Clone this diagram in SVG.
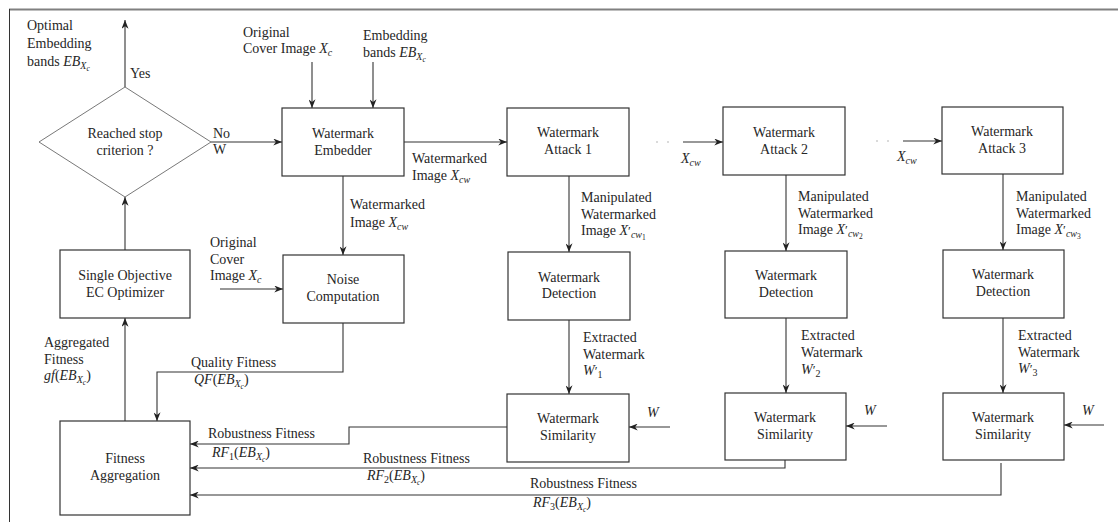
<svg xmlns="http://www.w3.org/2000/svg" width="1118" height="522" viewBox="0 0 1118 522">
  <style>
    text { font-family: "Liberation Serif", "DejaVu Serif", serif; font-size: 14px; fill: #262626; }
    .c { text-anchor: middle; }
    .i { font-style: italic; }
    .s { font-size: 10px; }
    .ss { font-size: 7.5px; }
    .p { font-size: 13px; }
    .box { fill: #fff; stroke: #333; stroke-width: 1.2; }
    .arr { fill: none; stroke: #333; stroke-width: 1.1; marker-end: url(#ah); }
  </style>
  <defs>
    <marker id="ah" viewBox="0 0 10 8" refX="10" refY="4" markerWidth="9" markerHeight="7" orient="auto" markerUnits="userSpaceOnUse">
      <path d="M0,0 L10,4 L0,8 L3,4 Z" fill="#222"/>
    </marker>
  </defs>

  <rect width="1118" height="522" fill="#fff"/>

  <!-- frame -->
  <g id="frame">
    <line x1="9" y1="9.5" x2="1118" y2="9.5" stroke="#808080" stroke-width="2"/>
    <line x1="9.5" y1="9" x2="9.5" y2="522" stroke="#333" stroke-width="1"/>
  </g>

  <!-- connectors -->
  <g id="connectors">
    <path class="arr" d="M125,87 V20"/>
    <path class="arr" d="M211,142 H282"/>
    <path class="arr" d="M312,62 V108"/>
    <path class="arr" d="M373,62 V108"/>
    <path class="arr" d="M404,142 H507"/>
    <path class="arr" d="M343,176 V255"/>
    <path class="arr" d="M220,289 H283"/>
    <path class="arr" d="M125,250 V197"/>
    <path class="arr" d="M125,421 V318"/>
    <path class="arr" d="M343,323 V372 H157 V421"/>
    <circle cx="657" cy="142" r="0.7" fill="#999"/>
    <circle cx="668" cy="142" r="0.7" fill="#999"/>
    <path class="arr" d="M683,142 H723"/>
    <circle cx="877" cy="141" r="0.7" fill="#999"/>
    <circle cx="888" cy="141" r="0.7" fill="#999"/>
    <path class="arr" d="M903,141 H942"/>
    <path class="arr" d="M569,176 V252"/>
    <path class="arr" d="M786,175 V251"/>
    <path class="arr" d="M1003,174 V250"/>
    <path class="arr" d="M569,320 V394"/>
    <path class="arr" d="M786,318 V393"/>
    <path class="arr" d="M1003,318 V393"/>
    <path class="arr" d="M670,427 H629"/>
    <path class="arr" d="M887,426 H846"/>
    <path class="arr" d="M1104,425 H1064"/>
    <path class="arr" d="M507,427 H349 V444 H190"/>
    <path class="arr" d="M785,460 V468 H190"/>
    <path class="arr" d="M1001,463 V495 H190"/>
  </g>

  <!-- edge labels -->
  <g id="labels">
    <text x="27" y="30">Optimal</text>
    <text x="27" y="48">Embedding</text>
    <text x="27" y="65.5">bands <tspan class="i">EB</tspan><tspan class="i s" dy="3">X</tspan><tspan class="i ss" dy="2">c</tspan></text>
    <text x="130" y="78">Yes</text>
    <text x="213" y="137.5">No</text>
    <text x="213" y="154">W</text>
    <text x="243" y="37">Original</text>
    <text x="243" y="53">Cover Image <tspan class="i">X</tspan><tspan class="i s" dy="3">c</tspan></text>
    <text x="363" y="40">Embedding</text>
    <text x="363" y="57">bands <tspan class="i">EB</tspan><tspan class="i s" dy="3">X</tspan><tspan class="i ss" dy="2">c</tspan></text>
    <text x="412" y="163">Watermarked</text>
    <text x="412" y="180">Image <tspan class="i">X</tspan><tspan class="i s" dy="3">cw</tspan></text>
    <text x="681" y="163"><tspan class="i">X</tspan><tspan class="i s" dy="3">cw</tspan></text>
    <text x="897" y="161"><tspan class="i">X</tspan><tspan class="i s" dy="3">cw</tspan></text>

    <text x="581" y="202">Manipulated</text>
    <text x="581" y="218.5">Watermarked</text>
    <text x="581" y="235">Image <tspan class="i">X</tspan><tspan class="p">′</tspan><tspan class="i s" dy="3">cw</tspan><tspan class="ss" dy="2">1</tspan></text>
    <text x="798" y="201">Manipulated</text>
    <text x="798" y="217.5">Watermarked</text>
    <text x="798" y="234">Image <tspan class="i">X</tspan><tspan class="p">′</tspan><tspan class="i s" dy="3">cw</tspan><tspan class="ss" dy="2">2</tspan></text>
    <text x="1016" y="201">Manipulated</text>
    <text x="1016" y="217.5">Watermarked</text>
    <text x="1016" y="234">Image <tspan class="i">X</tspan><tspan class="p">′</tspan><tspan class="i s" dy="3">cw</tspan><tspan class="ss" dy="2">3</tspan></text>

    <text x="583" y="342">Extracted</text>
    <text x="583" y="358.5">Watermark</text>
    <text x="583" y="375"><tspan class="i">W</tspan><tspan class="p">′</tspan><tspan class="s" dy="3">1</tspan></text>
    <text x="801" y="340">Extracted</text>
    <text x="801" y="357">Watermark</text>
    <text x="801" y="374"><tspan class="i">W</tspan><tspan class="p">′</tspan><tspan class="s" dy="3">2</tspan></text>
    <text x="1018" y="340">Extracted</text>
    <text x="1018" y="356.5">Watermark</text>
    <text x="1018" y="373"><tspan class="i">W</tspan><tspan class="p">′</tspan><tspan class="s" dy="3">3</tspan></text>

    <text class="i" x="647" y="417">W</text>
    <text class="i" x="864" y="415">W</text>
    <text class="i" x="1082" y="415">W</text>

    <text x="350" y="209">Watermarked</text>
    <text x="350" y="227">Image <tspan class="i">X</tspan><tspan class="i s" dy="3">cw</tspan></text>
    <text x="210" y="247">Original</text>
    <text x="210" y="263.5">Cover</text>
    <text x="210" y="280">Image <tspan class="i">X</tspan><tspan class="i s" dy="3">c</tspan></text>

    <text x="44" y="347">Aggregated</text>
    <text x="44" y="363.5">Fitness</text>
    <text x="44" y="380"><tspan class="i">gf</tspan>(<tspan class="i">EB</tspan><tspan class="i s" dy="3">X</tspan><tspan class="i ss" dy="2">c</tspan><tspan dy="-5">)</tspan></text>
    <text x="191" y="367">Quality Fitness</text>
    <text x="194" y="384"><tspan class="i">QF</tspan>(<tspan class="i">EB</tspan><tspan class="i s" dy="3">X</tspan><tspan class="i ss" dy="2">c</tspan><tspan dy="-5">)</tspan></text>

    <text x="208" y="438">Robustness Fitness</text>
    <text x="212" y="456.5"><tspan class="i">RF</tspan><tspan class="s" dy="3">1</tspan><tspan dy="-3">(</tspan><tspan class="i">EB</tspan><tspan class="i s" dy="3">X</tspan><tspan class="i ss" dy="2">c</tspan><tspan dy="-5">)</tspan></text>
    <text x="363" y="463">Robustness Fitness</text>
    <text x="367" y="480"><tspan class="i">RF</tspan><tspan class="s" dy="3">2</tspan><tspan dy="-3">(</tspan><tspan class="i">EB</tspan><tspan class="i s" dy="3">X</tspan><tspan class="i ss" dy="2">c</tspan><tspan dy="-5">)</tspan></text>
    <text x="530" y="488">Robustness Fitness</text>
    <text x="533" y="507"><tspan class="i">RF</tspan><tspan class="s" dy="3">3</tspan><tspan dy="-3">(</tspan><tspan class="i">EB</tspan><tspan class="i s" dy="3">X</tspan><tspan class="i ss" dy="2">c</tspan><tspan dy="-5">)</tspan></text>
  </g>

  <!-- nodes -->
  <g id="decision">
    <polygon points="125,87 211,142 125,197 39,142" fill="#fff" stroke="#555" stroke-width="0.8"/>
    <text class="c" x="125" y="138">Reached stop</text>
    <text class="c" x="125" y="154.5">criterion ?</text>
  </g>
  <g id="embedder">
    <rect class="box" x="282" y="108" width="122" height="68"/>
    <text class="c" x="343" y="138">Watermark</text>
    <text class="c" x="343" y="155">Embedder</text>
  </g>
  <g id="attack1">
    <rect class="box" x="507" y="108" width="122" height="68"/>
    <text class="c" x="568" y="137">Watermark</text>
    <text class="c" x="568" y="154">Attack 1</text>
  </g>
  <g id="attack2">
    <rect class="box" x="723" y="107" width="122" height="68"/>
    <text class="c" x="784" y="137">Watermark</text>
    <text class="c" x="784" y="154">Attack 2</text>
  </g>
  <g id="attack3">
    <rect class="box" x="942" y="107" width="121" height="67"/>
    <text class="c" x="1002" y="136">Watermark</text>
    <text class="c" x="1002" y="153">Attack 3</text>
  </g>
  <g id="optimizer">
    <rect class="box" x="60" y="250" width="130" height="68"/>
    <text class="c" x="125" y="280">Single Objective</text>
    <text class="c" x="125" y="297">EC Optimizer</text>
  </g>
  <g id="noise">
    <rect class="box" x="283" y="255" width="121" height="68"/>
    <text class="c" x="343" y="284">Noise</text>
    <text class="c" x="343" y="301">Computation</text>
  </g>
  <g id="detection1">
    <rect class="box" x="508" y="252" width="122" height="68"/>
    <text class="c" x="569" y="281.5">Watermark</text>
    <text class="c" x="569" y="298">Detection</text>
  </g>
  <g id="detection2">
    <rect class="box" x="725" y="251" width="122" height="67"/>
    <text class="c" x="786" y="280">Watermark</text>
    <text class="c" x="786" y="296.5">Detection</text>
  </g>
  <g id="detection3">
    <rect class="box" x="943" y="250" width="121" height="68"/>
    <text class="c" x="1003" y="279">Watermark</text>
    <text class="c" x="1003" y="296">Detection</text>
  </g>
  <g id="aggregation">
    <rect class="box" x="60" y="421" width="130" height="94"/>
    <text class="c" x="125" y="463">Fitness</text>
    <text class="c" x="125" y="480">Aggregation</text>
  </g>
  <g id="similarity1">
    <rect class="box" x="507" y="394" width="122" height="68"/>
    <text class="c" x="568" y="423">Watermark</text>
    <text class="c" x="568" y="440">Similarity</text>
  </g>
  <g id="similarity2">
    <rect class="box" x="725" y="393" width="121" height="67"/>
    <text class="c" x="785" y="422">Watermark</text>
    <text class="c" x="785" y="439">Similarity</text>
  </g>
  <g id="similarity3">
    <rect class="box" x="943" y="393" width="121" height="67"/>
    <text class="c" x="1003" y="422">Watermark</text>
    <text class="c" x="1003" y="439">Similarity</text>
  </g>
</svg>
